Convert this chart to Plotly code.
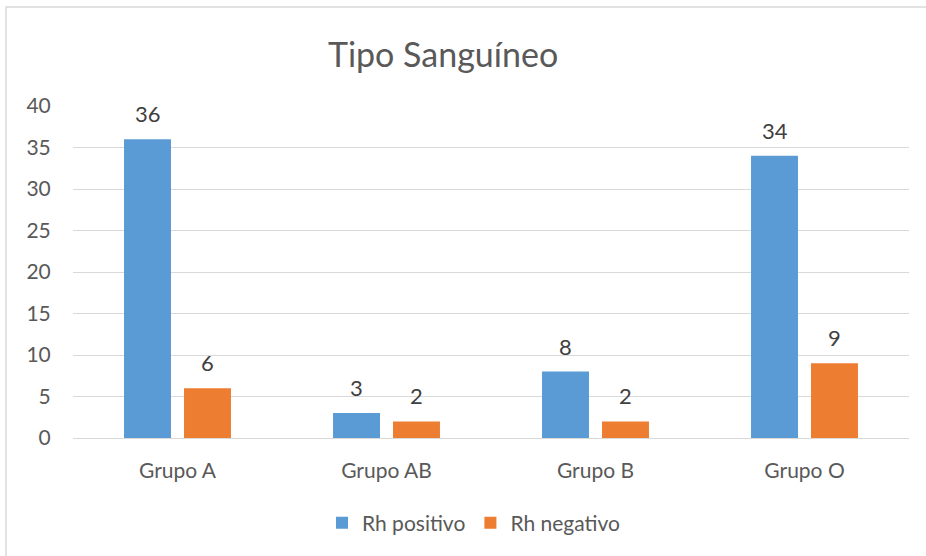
import plotly.graph_objects as go

categories = ["Grupo A", "Grupo AB", "Grupo B", "Grupo O"]
rh_positivo = [36, 3, 8, 34]
rh_negativo = [6, 2, 2, 9]
series_names = ["Rh positivo", "Rh negativo"]
y_ticks = [0, 5, 10, 15, 20, 25, 30, 35, 40]

BLUE = "#5B9BD5"
ORANGE = "#ED7D31"
TXT = "#595959"
FONT = "Lato"

fig = go.Figure()
fig.add_trace(go.Bar(x=categories, y=rh_positivo, name=series_names[0],
                     marker=dict(color=BLUE, line=dict(width=0))))
fig.add_trace(go.Bar(x=categories, y=rh_negativo, name=series_names[1],
                     marker=dict(color=ORANGE, line=dict(width=0))))

annotations = []
for cat, v in zip(categories, rh_positivo):
    annotations.append(dict(x=cat, y=v, xref="x", yref="y", text=str(v), showarrow=False,
                            xshift=-30, yshift=10, yanchor="bottom",
                            font=dict(family=FONT, size=22, color="#404040")))
for cat, v in zip(categories, rh_negativo):
    annotations.append(dict(x=cat, y=v, xref="x", yref="y", text=str(v), showarrow=False,
                            xshift=30, yshift=10, yanchor="bottom",
                            font=dict(family=FONT, size=22, color="#404040")))

L, R, T, B = 73, 17, 106, 118
W, H = 926, 556
pw, ph = W - L - R, H - T - B

def px_x(x):
    return (x - L) / pw

def px_y(y):
    return (H - B - y) / ph

fig.add_shape(type="rect", xref="paper", yref="paper",
              x0=px_x(6), x1=px_x(940), y0=px_y(570), y1=px_y(7),
              line=dict(color="#D9D9D9", width=1.5), fillcolor="rgba(0,0,0,0)", layer="below")

fig.update_layout(
    width=W, height=H,
    margin=dict(l=L, r=R, t=T, b=B, pad=0),
    paper_bgcolor="white", plot_bgcolor="white",
    barmode="group", bargap=0.426, bargroupgap=0.217,
    title=dict(text="Tipo Sanguíneo", x=px_x(473), xanchor="center",
               y=(H - 55) / H, yanchor="middle",
               font=dict(family=FONT, size=34, color=TXT)),
    font=dict(family=FONT, color=TXT),
    showlegend=True,
    legend=dict(orientation="h", x=px_x(474), xanchor="center", y=px_y(523), yanchor="middle",
                font=dict(family=FONT, size=21, color=TXT), itemwidth=30,
                traceorder="normal", bgcolor="rgba(0,0,0,0)"),
    annotations=annotations,
    xaxis=dict(showline=True, linecolor="#D9D9D9", linewidth=1, ticks="outside",
               ticklen=14, tickcolor="rgba(0,0,0,0)", showgrid=False,
               tickfont=dict(family=FONT, size=21, color=TXT), fixedrange=True),
    yaxis=dict(range=[0, 40], tickvals=y_ticks, showgrid=True, gridcolor="#D9D9D9",
               gridwidth=1, zeroline=False, showline=False, ticks="outside", ticklen=17,
               tickcolor="rgba(0,0,0,0)",
               tickfont=dict(family=FONT, size=21, color=TXT), fixedrange=True),
)

fig.write_html("out.html", config={"displayModeBar": False},
               post_script="document.body.style.margin='0';document.body.style.overflow='hidden';")
